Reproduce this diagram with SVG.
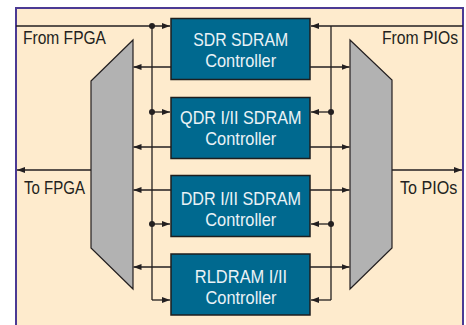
<svg xmlns="http://www.w3.org/2000/svg" width="466" height="325" viewBox="0 0 466 325">
  <defs>
    <style>
      .frame { fill: #feebcd; stroke: #4b3a94; stroke-width: 2; }
      .mux { fill: #b2b2b2; stroke: #231f20; stroke-width: 1.2; }
      .ctrl { fill: #00698f; stroke: #1e1e1e; stroke-width: 1.5; }
      .wire { fill: none; stroke: #231f20; stroke-width: 1.3; }
      .label { font-family: "Liberation Sans Narrow", "Liberation Sans", Arial, sans-serif; font-size: 18px; fill: #231f20; }
      .end { text-anchor: end; }
      .ctext { font-family: "Liberation Sans Narrow", "Liberation Sans", Arial, sans-serif; font-size: 19px; fill: #eaf2f6; text-anchor: middle; }
      .dot { fill: #231f20; }
    </style>
    <marker id="arrow" viewBox="0 0 8 6" refX="8" refY="3" markerWidth="8" markerHeight="6" markerUnits="userSpaceOnUse" orient="auto">
      <path d="M0,0 L8,3 L0,6 Z" fill="#231f20"/>
    </marker>
  </defs>

  <!-- background frame -->
  <rect x="0" y="0" width="466" height="325" fill="#ffffff"/>
  <rect class="frame" x="16" y="8" width="447" height="330"/>

  <!-- multiplexers -->
  <g id="mux-fpga">
    <polygon class="mux" points="91,81 133,40 133,289 91,248"/>
  </g>
  <g id="mux-pio">
    <polygon class="mux" points="350,40 392,80 392,248 350,289"/>
  </g>

  <!-- controllers -->
  <g id="sdr">
    <rect class="ctrl" x="171" y="18.5" width="139" height="61"/>
    <text class="ctext" x="240.7" y="45.7" textLength="95" lengthAdjust="spacingAndGlyphs">SDR SDRAM</text>
    <text class="ctext" x="240.7" y="66.7" textLength="71" lengthAdjust="spacingAndGlyphs">Controller</text>
  </g>
  <g id="qdr">
    <rect class="ctrl" x="171" y="97.5" width="139" height="61"/>
    <text class="ctext" x="240.8" y="124" textLength="121.5" lengthAdjust="spacingAndGlyphs">QDR I/II SDRAM</text>
    <text class="ctext" x="240.8" y="144.7" textLength="71" lengthAdjust="spacingAndGlyphs">Controller</text>
  </g>
  <g id="ddr">
    <rect class="ctrl" x="171" y="175.5" width="139" height="61"/>
    <text class="ctext" x="240.8" y="205.3" textLength="120.3" lengthAdjust="spacingAndGlyphs">DDR I/II SDRAM</text>
    <text class="ctext" x="240.8" y="226" textLength="71" lengthAdjust="spacingAndGlyphs">Controller</text>
  </g>
  <g id="rldram">
    <rect class="ctrl" x="171" y="254" width="139" height="61"/>
    <text class="ctext" x="241" y="283.3" textLength="92.3" lengthAdjust="spacingAndGlyphs">RLDRAM I/II</text>
    <text class="ctext" x="241" y="304.3" textLength="71" lengthAdjust="spacingAndGlyphs">Controller</text>
  </g>

  <!-- connectors -->
  <g id="connectors">
    <!-- FPGA side: command bus fanning out to controllers -->
    <path class="wire" d="M16,26 H170" marker-end="url(#arrow)"/>
    <path class="wire" d="M152,26 V300"/>
    <path class="wire" d="M152,112 H170" marker-end="url(#arrow)"/>
    <path class="wire" d="M152,224 H170" marker-end="url(#arrow)"/>
    <path class="wire" d="M152,300 H170" marker-end="url(#arrow)"/>
    <circle class="dot" cx="152" cy="26" r="3"/>
    <circle class="dot" cx="152" cy="112" r="3"/>
    <circle class="dot" cx="152" cy="224" r="3"/>

    <!-- controller returns into FPGA mux -->
    <path class="wire" d="M171,67 H133.5" marker-end="url(#arrow)"/>
    <path class="wire" d="M171,147 H133.5" marker-end="url(#arrow)"/>
    <path class="wire" d="M171,190 H133.5" marker-end="url(#arrow)"/>
    <path class="wire" d="M171,267 H133.5" marker-end="url(#arrow)"/>
    <path class="wire" d="M91,170 H17" marker-end="url(#arrow)"/>

    <!-- PIO side: input bus fanning out to controllers -->
    <path class="wire" d="M463,26 H311" marker-end="url(#arrow)"/>
    <path class="wire" d="M331,26 V300"/>
    <path class="wire" d="M331,112 H311" marker-end="url(#arrow)"/>
    <path class="wire" d="M331,224 H311" marker-end="url(#arrow)"/>
    <path class="wire" d="M331,300 H311" marker-end="url(#arrow)"/>
    <circle class="dot" cx="331" cy="112" r="3"/>
    <circle class="dot" cx="331" cy="224" r="3"/>

    <!-- controller outputs into PIO mux -->
    <path class="wire" d="M310,67 H349.5" marker-end="url(#arrow)"/>
    <path class="wire" d="M310,147 H349.5" marker-end="url(#arrow)"/>
    <path class="wire" d="M310,190 H349.5" marker-end="url(#arrow)"/>
    <path class="wire" d="M310,267 H349.5" marker-end="url(#arrow)"/>
    <path class="wire" d="M392,170 H462" marker-end="url(#arrow)"/>
  </g>

  <!-- port labels -->
  <text class="label" x="23" y="44" textLength="83" lengthAdjust="spacingAndGlyphs">From FPGA</text>
  <text class="label end" x="458" y="44" textLength="76" lengthAdjust="spacingAndGlyphs">From PIOs</text>
  <text class="label" x="24" y="194.3" textLength="61" lengthAdjust="spacingAndGlyphs">To FPGA</text>
  <text class="label end" x="457.3" y="194.3" textLength="57.3" lengthAdjust="spacingAndGlyphs">To PIOs</text>
</svg>
